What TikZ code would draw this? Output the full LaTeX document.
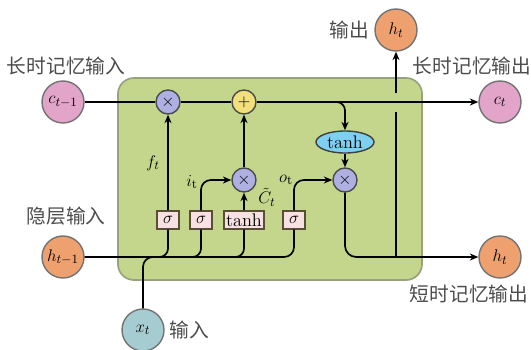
\documentclass[tikz,border=0pt]{standalone}
\usepackage{amsmath}
\usepackage{fontspec}
\usepackage{xcolor}
\usepackage{tikz}
\usetikzlibrary{calc,positioning,arrows.meta,shapes.geometric}
\newfontfamily\cjk{Noto Sans CJK SC}
\definecolor{cellgreen}{HTML}{C4D68B}
\definecolor{cellline}{HTML}{98A37E}
\definecolor{cpink}{HTML}{E2A4C9}
\definecolor{horange}{HTML}{EEA06F}
\definecolor{xteal}{HTML}{A5CCD0}
\definecolor{oplav}{HTML}{AEB0E2}
\definecolor{opyel}{HTML}{F1E07C}
\definecolor{tanhblue}{HTML}{7FCFF0}
\definecolor{gatepink}{HTML}{F7E1E3}
\definecolor{gateline}{HTML}{5B4E36}

\begin{document}
\begin{tikzpicture}[x=0.025cm, y=-0.025cm, >={Stealth[length=6pt,width=5pt]},
    line width=1.2pt, font=\fontsize{13}{15}\selectfont,
    state/.style={circle, draw=black!55, line width=1pt, minimum size=1.05cm,
                  inner sep=0pt},
    op/.style={circle, draw=black!70, line width=1pt, minimum size=0.6cm,
               inner sep=0pt, fill=oplav},
    gatebox/.style={draw=gateline, fill=gatepink, line width=1pt,
                    minimum height=0.45cm, minimum width=0.55cm, inner sep=1.5pt},
    lbl/.style={inner sep=0.5pt},
    cn/.style={font=\cjk\fontsize{14}{16}\selectfont, text=black!70}]
  \useasboundingbox (0,0) rectangle (531,349);
  % cell body
  \node[draw=cellline, fill=cellgreen, line width=1.2pt, rounded corners=0.4cm,
        minimum width=7.6cm, minimum height=5.05cm] (cell) at (270,179) {};
  % states in and out
  \node[state, fill=cpink] (ct1) at (63,102) {$c_{t-1}$};
  \node[state, fill=cpink] (ct) at (500,102) {$c_t$};
  \node[state, fill=horange] (ht1) at (63,257) {$h_{t-1}$};
  \node[state, fill=horange] (htr) at (500,257) {$h_t$};
  \node[state, fill=horange] (hto) at (396,30) {$h_t$};
  \node[state, fill=xteal] (xt) at (143,330) {$x_t$};
  % pointwise ops
  \node[op] (fx) at (168,102) {$\times$};
  \node[op, fill=opyel] (add) at (244,102) {$+$};
  \node[op] (ix) at (244,180) {$\times$};
  \node[op] (ox) at (345,180) {$\times$};
  \node[ellipse, draw=black!75, fill=tanhblue, line width=1pt, inner sep=0pt,
        minimum width=1.45cm, minimum height=0.55cm] (th) at (345,142) {tanh};
  % gate layers
  \foreach \n/\x/\t in {sf/168/$\sigma$, si/201/$\sigma$, sc/244/tanh, so/294/$\sigma$}
    \node[gatebox] (\n) at (\x,220) {\t};
  % cell state line
  \coordinate (br) at (332,102);
  \draw (ct1) -- (fx);
  \draw (fx) -- (add);
  \draw[->] (add) -- (ct);
  \draw[->, rounded corners=6pt] (br) -| (th);
  \draw[->] (th) -- (ox);
  % hidden state line and gate branches
  \foreach \c/\x in {bf/157, bi/190, bc/233}
    \coordinate (\c) at (\x,257);
  \draw[rounded corners=7pt] (xt) |- (bf);
  \draw[rounded corners=7pt] (ht1) -| (so);
  \draw[rounded corners=6pt] (bf) -| (sf);
  \draw[rounded corners=6pt] (bi) -| (si);
  \draw[rounded corners=6pt] (bc) -| (sc);
  \draw[->] (sf) -- (fx);
  \draw[->, rounded corners=7pt] (si) |- (ix);
  \draw[->] (sc) -- (ix);
  \draw[->] (ix) -- (add);
  \draw[->, rounded corners=7pt] (so) |- (ox);
  % output
  \coordinate (jn) at (396,257);
  \coordinate (gaplo) at (396,112);
  \coordinate (gaphi) at (396,93);
  \draw[->, rounded corners=8pt] (ox) |- (htr);
  \draw (jn) -- (gaplo);
  \draw[->] (gaphi) -- (hto);
  % gate labels
  \node[lbl] at (153,163) {$f_t$};
  \node[lbl] at (192,182) {$i_{\mathrm{t}}$};
  \node[lbl] at (286,180) {$o_{\mathrm{t}}$};
  \node[lbl] at (267,197) {$\tilde{C}_t$};
  % texts
  \node[cn] (lin) at (66,66) {长时记忆输入};
  \node[cn] (lout) at (472,66) {长时记忆输出};
  \node[cn] (hin) at (66,216) {隐层输入};
  \node[cn] (sout) at (469,294) {短时记忆输出};
  \node[cn] (oout) at (349,30) {输出};
  \node[cn] (xin) at (189,330) {输入};
\end{tikzpicture}
\end{document}
